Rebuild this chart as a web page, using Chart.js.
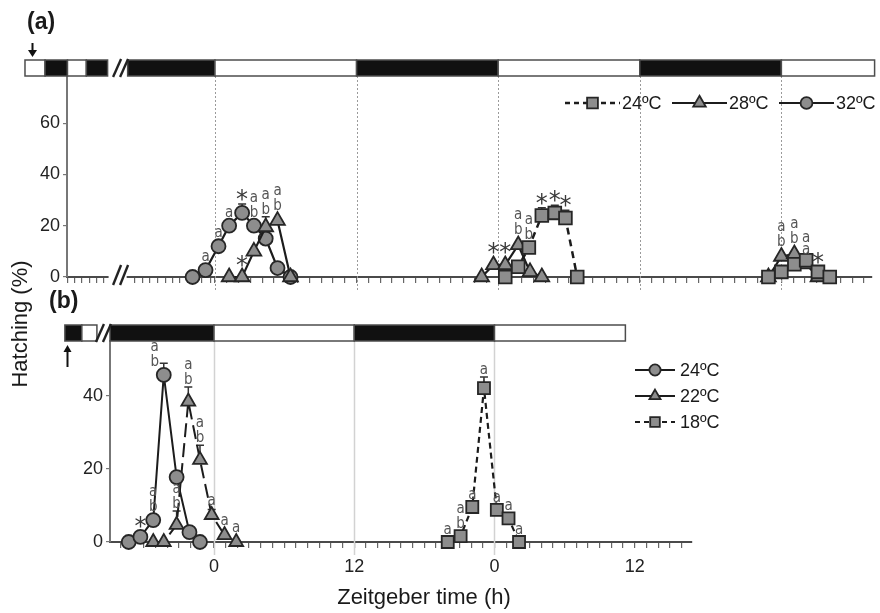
<!DOCTYPE html>
<html>
<head>
<meta charset="utf-8">
<title>Hatching vs Zeitgeber time</title>
<script src="https://cdn.jsdelivr.net/npm/chart.js@4.4.1/dist/chart.umd.min.js"></script>
<style>
  body { margin: 0; background: #fff; font-family: "Liberation Sans", Arial, sans-serif; color: #1a1a1a; }
  #fig { position: relative; width: 880px; height: 613px; overflow: hidden; }
  #fig canvas { position: absolute; left: 0; }
  .txt { position: absolute; white-space: nowrap; line-height: 1; }
</style>
</head>
<body>
<div id="fig">
  <canvas id="panelA" width="880" height="300" style="top:0"></canvas>
  <canvas id="panelB" width="880" height="313" style="top:300px"></canvas>
  <div class="txt" style="left:27px; top:10px; font-size:23px; font-weight:bold">(a)</div>
  <div class="txt" style="left:49px; top:289px; font-size:23px; font-weight:bold">(b)</div>
  <div class="txt" style="left:20px; top:324px; font-size:22px; transform:translate(-50%,-50%) rotate(-90deg)">Hatching (%)</div>
  <div class="txt" style="left:424px; top:597px; font-size:22px; transform:translate(-50%,-50%)">Zeitgeber time (h)</div>
</div>
<script>
const fontFamily = '"Liberation Sans", Arial, sans-serif';
const markFont = '"DejaVu Sans Condensed", "DejaVu Sans", sans-serif';

// ---------- panel (a): 24, 28 and 32 ºC ----------
const yTicksA = [0, 20, 40, 60];
const gridHoursA = [0, 12, 24, 36, 48];
// tick marks before ZT0 are squeezed in the original axis
const tickHoursA = [-12.5, -11.9, -11.3, -10.6, -10.0, -9.4,
  -6.8, -6.1, -5.5, -4.9, -4.2, -3.6, -3.0, -2.3, -1.7, -1.1, -0.4];
for (let h = 0; h <= 55; h++) tickHoursA.push(h);

// light / dark bar (1 = dark)
const ldStartA = [-16.1, -14.4, -12.5, -10.9, -7.4, 0, 12, 24, 36, 48];
const ldEndA   = [-14.4, -12.5, -10.9, -9.1, 0, 12, 24, 36, 48, 55.9];
const ldDarkA  = [0, 1, 0, 1, 1, 0, 1, 0, 1, 0];

const a24Hours  = [24.6, 25.7, 26.6, 27.7, 28.8, 29.7, 30.7, null, 46.9, 48.0, 49.1, 50.1, 51.1, 52.1];
const a24Values = [0, 4, 11.5, 24, 25, 23, 0, null, 0, 2, 5, 6.5, 2, 0];
const a24Err    = [0, 0, 0, 3, 3, 3, 0, 0, 0, 0, 0, 0, 0, 0];
const a24Marks  = ['', '', 'ab', '*', '*', '*', '', '', '', '', '', '', '*', ''];

const a28Hours  = [1.2, 2.3, 3.3, 4.3, 5.3, 6.4, null, 22.6, 23.6, 24.6, 25.7, 26.7, 27.7, null, 46.9, 48.0, 49.1, 50.1, 51.1];
const a28Values = [0, 0, 10, 19.5, 22, 0, null, 0, 4.7, 4.7, 12.5, 2, 0, null, 0, 8, 9, 5, 0];
const a28Err    = [0, 0, 0, 4, 0, 0, 0, 0, 0, 0, 0, 0, 0, 0, 0, 0, 0, 0, 0];
const a28Marks  = ['', '*', '', 'ab', 'ab', '', '', '', '*', '*', 'ab', '', '', '', '', 'ab', 'ab', 'aa', ''];

const a32Hours  = [-1.9, -0.8, 0.3, 1.2, 2.3, 3.3, 4.3, 5.3, 6.4];
const a32Values = [0, 2.7, 12, 20, 25, 20, 15, 3.5, 0];
const a32Err    = [0, 0, 0, 0, 3.5, 0, 0, 0, 0];
const a32Marks  = ['', 'a', 'a', 'a', '*', 'ab', '', '', ''];

// ---------- panel (b): 24, 22 and 18 ºC ----------
const yTicksB = [0, 20, 40];
const gridHoursB = [0, 12, 24];
const tickHoursB = [];
for (let h = -8; h <= 40; h++) tickHoursB.push(h);
const xLabelHoursB = [0, 12, 24, 36];
const xLabelTextB = ['0', '12', '0', '12'];

const ldStartB = [-12.76, -11.31, -8.9, 0, 12, 24];
const ldEndB   = [-11.31, -10.02, 0, 12, 24, 35.2];
const ldDarkB  = [1, 0, 1, 0, 1, 0];

const b24Hours  = [-7.3, -6.3, -5.2, -4.3, -3.2, -2.1, -1.2];
const b24Values = [0, 1.4, 6, 45.8, 17.8, 2.7, 0];
const b24Err    = [0, 0, 0, 3.2, 0, 0, 0];
const b24Marks  = ['', '*', 'ab', 'ab', '', '', ''];

const b22Hours  = [-5.2, -4.3, -3.2, -2.2, -1.2, -0.2, 0.9, 1.9];
const b22Values = [0, 0, 4.7, 38.5, 22.5, 7.4, 1.9, 0];
const b22Err    = [0, 0, 3.8, 4, 4, 1.5, 0, 0];
const b22Marks  = ['', '', 'ab', 'ab', 'ab', 'a', 'a', 'a'];

const b18Hours  = [20.0, 21.1, 22.1, 23.1, 24.2, 25.2, 26.1];
const b18Values = [0, 1.6, 9.6, 42.2, 8.8, 6.5, 0];
const b18Err    = [0, 0, 0, 3, 0, 0, 0];
const b18Marks  = ['a', 'ab', 'a', 'a', 'a', 'a', 'a'];

function series(label, hours, values, errs, marks, style) {
  return Object.assign({
    label: label,
    data: hours.map((h, i) => ({ x: h, y: values[i] })),
    errs: errs,
    marks: marks,
    borderColor: '#1c1c1c',
    borderWidth: 2.2,
    pointBackgroundColor: '#8d8d8d',
    pointBorderColor: '#262626',
    pointBorderWidth: 1.8,
    tension: 0,
    fill: false,
    spanGaps: false,
    clip: false
  }, style);
}

function drawMarker(ctx, style, r, px, py) {
  ctx.beginPath();
  if (style === 'circle') {
    ctx.arc(px, py, r, 0, Math.PI * 2);
  } else if (style === 'rect') {
    const s = r * Math.SQRT1_2;
    ctx.rect(px - s, py - s, 2 * s, 2 * s);
  } else {
    ctx.moveTo(px, py - r);
    ctx.lineTo(px + r * 0.866, py + r / 2);
    ctx.lineTo(px - r * 0.866, py + r / 2);
    ctx.closePath();
  }
  ctx.fill();
  ctx.stroke();
}

function decorPlugin(d) {
  return {
    id: 'decor',
    beforeDatasetsDraw(chart) {
      const { ctx, chartArea: ca, scales: { x, y } } = chart;
      ctx.save();
      // ZT grid lines
      ctx.strokeStyle = d.grid.color;
      ctx.lineWidth = d.grid.width;
      ctx.setLineDash(d.grid.dash);
      d.grid.hours.forEach(h => {
        const px = Math.round(x.getPixelForValue(h)) + 0.5;
        ctx.beginPath();
        ctx.moveTo(px, ca.top);
        ctx.lineTo(px, ca.bottom + d.grid.below);
        ctx.stroke();
      });
      ctx.setLineDash([]);
      // error bars (upper only)
      ctx.strokeStyle = '#333';
      ctx.lineWidth = 1.5;
      chart.data.datasets.forEach(ds => {
        ds.errs.forEach((e, i) => {
          const p = ds.data[i];
          if (!e || p.y === null) return;
          const px = x.getPixelForValue(p.x);
          const y0 = y.getPixelForValue(p.y), y1 = y.getPixelForValue(p.y + e);
          ctx.beginPath();
          ctx.moveTo(px, y0); ctx.lineTo(px, y1);
          ctx.moveTo(px - 4, y1); ctx.lineTo(px + 4, y1);
          ctx.stroke();
        });
      });
      ctx.restore();
    },
    afterDatasetsDraw(chart) {
      // significance letters above the points (or beside the error bar when space is short)
      const { ctx, chartArea: ca, scales: { x, y } } = chart;
      ctx.save();
      ctx.textAlign = 'center';
      ctx.textBaseline = 'alphabetic';
      const glyph = ch => {
        const star = ch === '*';
        ctx.font = star ? '24px "DejaVu Sans", sans-serif' : '15px ' + markFont;
        ctx.fillStyle = star ? '#3a3a3a' : '#555';
        return ctx.measureText(ch);
      };
      chart.data.datasets.forEach(ds => {
        const half = ds.pointStyle === 'rect' ? ds.pointRadius * Math.SQRT1_2 : ds.pointRadius;
        ds.marks.forEach((m, i) => {
          const p = ds.data[i];
          if (!m || p.y === null) return;
          const chars = m.split('').reverse();
          let px = x.getPixelForValue(p.x);
          const markerTop = y.getPixelForValue(p.y) - half - 2;
          let bottom = markerTop;
          if (ds.errs[i]) bottom = Math.min(bottom, y.getPixelForValue(p.y + ds.errs[i]) - 3);
          let h = 0;
          chars.forEach(ch => { const mt = glyph(ch); h += mt.actualBoundingBoxAscent + mt.actualBoundingBoxDescent + 3; });
          if (bottom - h < ca.top + 2) { bottom = markerTop; px -= 9; }
          chars.forEach(ch => {
            const mt = glyph(ch);
            ctx.fillText(ch, px, bottom - mt.actualBoundingBoxDescent);
            bottom -= mt.actualBoundingBoxAscent + mt.actualBoundingBoxDescent + 3;
          });
        });
      });
      ctx.restore();
    },
    afterDraw(chart) {
      const { ctx, chartArea: ca, scales: { x } } = chart;
      ctx.save();
      // light/dark bar
      const top = ca.top - 16, bot = ca.top;
      ctx.lineWidth = 1.5;
      ctx.strokeStyle = '#4d4d4d';
      d.bar.start.forEach((s, i) => {
        const x0 = x.getPixelForValue(s), x1 = x.getPixelForValue(d.bar.end[i]);
        ctx.fillStyle = d.bar.dark[i] ? '#111' : '#fff';
        ctx.fillRect(x0, top, x1 - x0, bot - top);
        ctx.strokeRect(x0, top, x1 - x0, bot - top);
      });
      // break marks
      const cx = x.getPixelForValue(d.brk.at);
      ctx.strokeStyle = '#222';
      ctx.lineWidth = 2.4;
      [-3.5, 3.5].forEach(o => {
        ctx.beginPath();
        ctx.moveTo(cx + o - 4, bot + 1);
        ctx.lineTo(cx + o + 4, top - 1);
        ctx.stroke();
      });
      if (d.brk.axis) {
        const g0 = x.getPixelForValue(d.brk.from), g1 = x.getPixelForValue(d.brk.to);
        ctx.fillStyle = '#fff';
        ctx.fillRect(g0 + 1, ca.bottom - 3, g1 - g0 - 2, 11);
        [-3.5, 3.5].forEach(o => {
          ctx.beginPath();
          ctx.moveTo(cx + o - 4, ca.bottom + 8);
          ctx.lineTo(cx + o + 4, ca.bottom - 12);
          ctx.stroke();
        });
      }
      // arrow marking the transfer time
      const ax = Math.round(x.getPixelForValue(d.arrow.hour)) + 0.5;
      ctx.strokeStyle = '#111';
      ctx.fillStyle = '#111';
      ctx.lineWidth = 2;
      ctx.beginPath();
      if (d.arrow.down) {
        ctx.moveTo(ax, top - 17); ctx.lineTo(ax, top - 9); ctx.stroke();
        ctx.beginPath(); ctx.moveTo(ax - 4.5, top - 10); ctx.lineTo(ax + 4.5, top - 10); ctx.lineTo(ax, top - 3);
      } else {
        ctx.moveTo(ax, bot + 26); ctx.lineTo(ax, bot + 10); ctx.stroke();
        ctx.beginPath(); ctx.moveTo(ax - 4, bot + 11); ctx.lineTo(ax + 4, bot + 11); ctx.lineTo(ax, bot + 4);
      }
      ctx.closePath();
      ctx.fill();
      // legend
      const lg = d.legend;
      ctx.font = '18px ' + fontFamily;
      ctx.textBaseline = 'middle';
      ctx.textAlign = 'left';
      lg.order.forEach((di, k) => {
        const ds = chart.data.datasets[di];
        const lx = lg.x + k * lg.dx, ly = lg.y + k * lg.dy;
        ctx.strokeStyle = ds.borderColor;
        ctx.lineWidth = ds.borderWidth;
        ctx.setLineDash(lg.dash[k]);
        ctx.beginPath(); ctx.moveTo(lx, ly); ctx.lineTo(lx + lg.len, ly); ctx.stroke();
        ctx.setLineDash([]);
        ctx.fillStyle = ds.pointBackgroundColor;
        ctx.strokeStyle = ds.pointBorderColor;
        ctx.lineWidth = ds.pointBorderWidth;
        drawMarker(ctx, ds.pointStyle, ds.pointRadius * lg.scale, lx + lg.len / 2, ly);
        ctx.fillStyle = '#1a1a1a';
        ctx.fillText(ds.label, lx + lg.len + lg.gap, ly + 1);
      });
      ctx.restore();
    }
  };
}

function options(o) {
  return {
    responsive: false,
    animation: false,
    events: [],
    layout: { autoPadding: false, padding: o.padding },
    plugins: { legend: { display: false }, tooltip: { enabled: false } },
    scales: {
      x: {
        type: 'linear', min: o.xMin, max: o.xMax,
        afterBuildTicks: s => { s.ticks = o.xTicks.map(v => ({ value: v })); },
        afterFit: s => { s.height = o.xHeight; },
        grid: { drawOnChartArea: false, drawTicks: true, tickLength: 6, color: '#666', lineWidth: 1.2 },
        border: { color: '#4a4a4a', width: 2 },
        ticks: {
          display: !!o.xLabels, autoSkip: false, maxRotation: 0, minRotation: 0, padding: 8,
          font: { family: fontFamily, size: 18 }, color: '#222',
          callback: v => {
            if (!o.xLabels) return '';
            const i = o.xLabels.hours.indexOf(v);
            return i < 0 ? '' : o.xLabels.text[i];
          }
        }
      },
      y: {
        min: 0, max: o.yMax,
        afterBuildTicks: s => { s.ticks = o.yTicks.map(v => ({ value: v })); },
        afterFit: s => { s.width = o.yWidth; },
        grid: { drawOnChartArea: false, tickLength: 4, color: '#777', lineWidth: 1.2 },
        border: { color: '#777', width: 2 },
        ticks: { padding: 3, font: { family: fontFamily, size: 18 }, color: '#222' }
      }
    }
  };
}

new Chart(document.getElementById('panelA'), {
  type: 'line',
  data: {
    datasets: [
      series('24ºC', a24Hours, a24Values, a24Err, a24Marks, { pointStyle: 'rect', pointRadius: 9, borderDash: [7, 5], borderWidth: 2.5 }),
      series('28ºC', a28Hours, a28Values, a28Err, a28Marks, { pointStyle: 'triangle', pointRadius: 8.5 }),
      series('32ºC', a32Hours, a32Values, a32Err, a32Marks, { pointStyle: 'circle', pointRadius: 7 })
    ]
  },
  options: options({
    padding: { top: 76, right: 8, left: 0, bottom: 0 },
    xMin: -12.54, xMax: 55.68, xTicks: tickHoursA, xHeight: 23,
    yMax: 78.4, yTicks: yTicksA, yWidth: 67
  }),
  plugins: [decorPlugin({
    grid: { hours: gridHoursA, color: '#9a9a9a', width: 1, dash: [2, 2], below: 13 },
    bar: { start: ldStartA, end: ldEndA, dark: ldDarkA },
    brk: { at: -8.0, from: -9.1, to: -7.4, axis: true },
    arrow: { hour: -15.5, down: true },
    legend: { order: [0, 1, 2], x: 565, y: 103, dx: 107, dy: 0, len: 55, gap: 2, scale: 0.85,
              dash: [[5, 4], [], []] }
  })]
});

new Chart(document.getElementById('panelB'), {
  type: 'line',
  data: {
    datasets: [
      series('24ºC', b24Hours, b24Values, b24Err, b24Marks, { pointStyle: 'circle', pointRadius: 7, borderWidth: 2 }),
      series('22ºC', b22Hours, b22Values, b22Err, b22Marks, { pointStyle: 'triangle', pointRadius: 8, borderWidth: 2, borderDash: [14, 6] }),
      series('18ºC', b18Hours, b18Values, b18Err, b18Marks, { pointStyle: 'rect', pointRadius: 8.5, borderWidth: 2.2, borderDash: [6, 4] })
    ]
  },
  options: options({
    padding: { top: 41, right: 188, left: 0, bottom: 0 },
    xMin: -8.9, xMax: 40.9, xTicks: tickHoursB, xHeight: 71,
    xLabels: { hours: xLabelHoursB, text: xLabelTextB },
    yMax: 55.1, yTicks: yTicksB, yWidth: 110
  }),
  plugins: [decorPlugin({
    grid: { hours: gridHoursB, color: '#d2d2d2', width: 1.5, dash: [], below: 13 },
    bar: { start: ldStartB, end: ldEndB, dark: ldDarkB },
    brk: { at: -9.46, axis: false },
    arrow: { hour: -12.58, down: false },
    legend: { order: [0, 1, 2], x: 635, y: 70, dx: 0, dy: 26, len: 40, gap: 5, scale: 0.8,
              dash: [[], [], [5, 4]] }
  })]
});
</script>
</body>
</html>
